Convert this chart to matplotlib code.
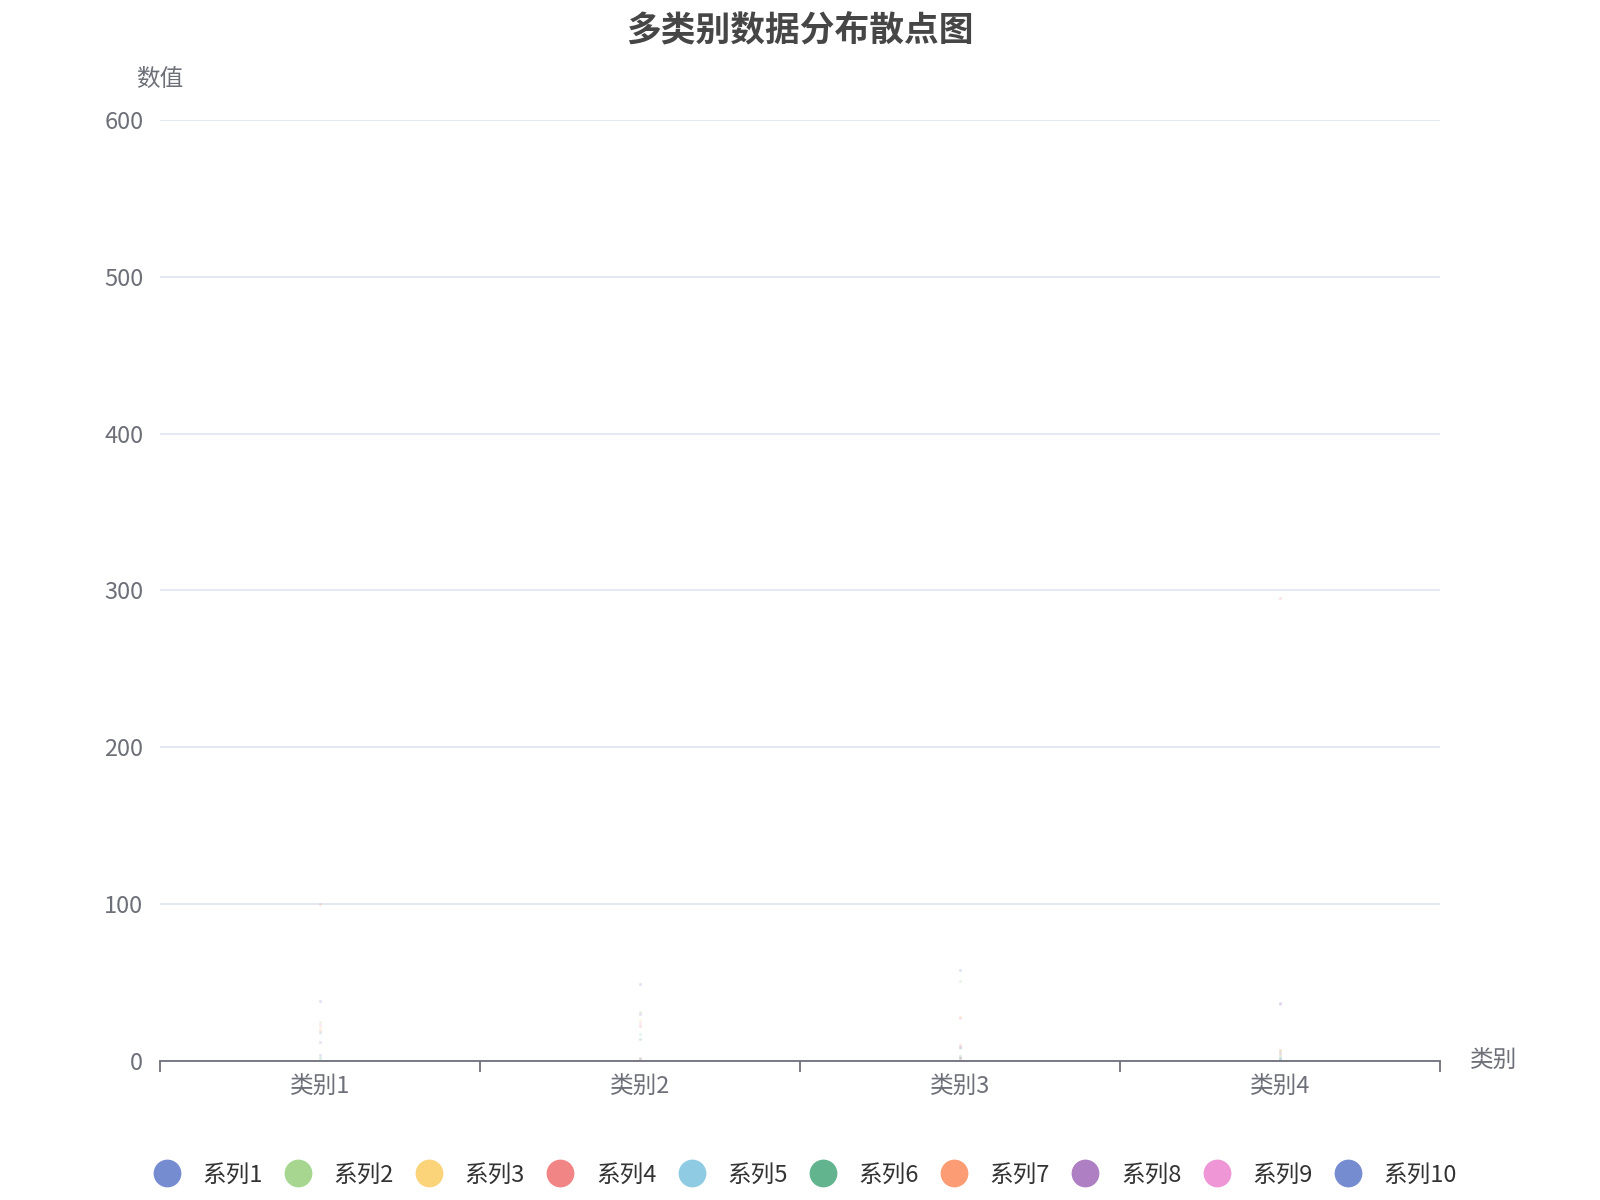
import numpy as np
import matplotlib.pyplot as plt
from matplotlib.lines import Line2D

plt.rcParams['font.family'] = ['Noto Sans CJK SC', 'DejaVu Sans']

categories = ['类别1', '类别2', '类别3', '类别4']
series_names = ['系列%d' % i for i in range(1, 11)]
colors = ['#5470c6', '#91cc75', '#fac858', '#ee6666', '#73c0de',
          '#3ba272', '#fc8452', '#9a60b4', '#ea7ccc', '#5470c6']

# one value per category for each series (read from the faint points)
s1 = [38, 49, 58, 37]
s2 = [25, 31, 51, 6]
s3 = [21, 26, 28, 4]
s4 = [19, 22, 10, 295]
s5 = [18, 17, 8, 3]
s6 = [2, 14, 3, 2]
s7 = [100, 1, 1.5, 7]
s8 = [12, 30, 9, 5]
s9 = [23, 24, 27, 36]
s10 = [4, 2, 2, 1]
values = [s1, s2, s3, s4, s5, s6, s7, s8, s9, s10]

fig = plt.figure(figsize=(16, 12), dpi=100)
ax = fig.add_axes([0.1, 0.116, 0.8, 0.784])

x = np.arange(len(categories))
for name, col, vals in zip(series_names, colors, values):
    ax.scatter(x, vals, s=5, color=col, alpha=0.18, linewidths=0, label=name)

ax.set_xlim(-0.5, len(categories) - 0.5)
ax.set_ylim(0, 600)
ax.set_yticks(np.arange(0, 601, 100))
ax.set_xticks(x)
ax.set_xticklabels(categories)
ax.set_xticks(np.arange(-0.5, len(categories), 1), minor=True)
ax.tick_params(axis='x', which='major', length=0, pad=10, labelsize=17, labelcolor='#6e7079')
ax.tick_params(axis='x', which='minor', length=8, width=1.3, color='#6e7079', direction='out')
ax.tick_params(axis='y', length=0, pad=12, labelsize=17, labelcolor='#6e7079')
ax.grid(axis='y', color='#e0e6f1', linewidth=1.3)
ax.set_axisbelow(True)
for sp in ['top', 'right', 'left']:
    ax.spines[sp].set_visible(False)
ax.spines['bottom'].set_color('#6e7079')
ax.spines['bottom'].set_linewidth(1.3)

ax.text(0, 1.031, '数值', transform=ax.transAxes, ha='center', va='bottom',
        fontsize=17, color='#6e7079')
ax.text(1.023, 0.0, '类别', transform=ax.transAxes, ha='left', va='center',
        fontsize=17, color='#6e7079')

fig.suptitle('多类别数据分布散点图', y=0.99, fontsize=25, fontweight='bold', color='#464646')

handles = [Line2D([0], [0], marker='o', linestyle='', markersize=20,
                  markerfacecolor=c, markeredgewidth=0, alpha=0.8) for c in colors]
fig.legend(handles, series_names, loc='center', bbox_to_anchor=(0.5, 0.021), ncol=10,
           frameon=False, fontsize=17, handletextpad=0.5, columnspacing=0.5,
           labelcolor='#333333')

fig.savefig('out.png', dpi=100)
